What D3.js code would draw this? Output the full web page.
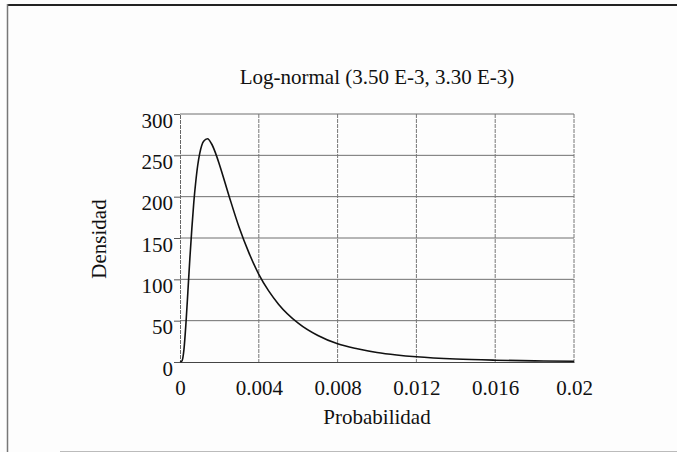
<!DOCTYPE html>
<html>
<head>
<meta charset="utf-8">
<script src="https://cdn.jsdelivr.net/npm/d3@7"></script>
<style>
  html, body { margin: 0; padding: 0; background: #fdfdfd; }
  svg { display: block; }
  text { font-family: "Liberation Serif", "Times New Roman", serif; fill: #111; }
</style>
</head>
<body>
<svg id="chart" width="677" height="452"></svg>
<script>
// ---- data ----
const titleText = "Log-normal (3.50 E-3, 3.30 E-3)";
const xLabel = "Probabilidad";
const yLabel = "Densidad";
const xTicks = [0, 0.004, 0.008, 0.012, 0.016, 0.02];
const xTickLabels = ["0", "0.004", "0.008", "0.012", "0.016", "0.02"];
const yTicks = [0, 50, 100, 150, 200, 250, 300];
const probX = [0, 0.0001, 0.0002, 0.0003, 0.0004, 0.0005, 0.0006, 0.0007, 0.0008, 0.0009,
               0.001, 0.0012, 0.0014, 0.0016, 0.0018, 0.002, 0.0025, 0.003, 0.0035, 0.004,
               0.0045, 0.005, 0.006, 0.007, 0.008, 0.009, 0.010, 0.011, 0.012, 0.014,
               0.016, 0.018, 0.02];
const densY = [0, 1.3, 15, 46, 85, 125, 161, 193, 218, 238,
               252, 267, 270, 264, 253, 239, 200, 163, 132, 106,
               86, 70, 47, 32, 22, 16, 11.5, 8.5, 6.3, 3.6,
               2.2, 1.4, 0.9];

// ---- layout ----
const svg = d3.select("#chart");
const x = d3.scaleLinear().domain([0, 0.02]).range([180, 574]);
const y = d3.scaleLinear().domain([0, 300]).range([362, 114]);

// frame (scanned border)
svg.append("line").attr("x1", 7).attr("x2", 677).attr("y1", 5).attr("y2", 5)
  .attr("stroke", "#222").attr("stroke-width", 2);
svg.append("line").attr("x1", 7.5).attr("x2", 7.5).attr("y1", 4).attr("y2", 452)
  .attr("stroke", "#777").attr("stroke-width", 1.5);
svg.append("line").attr("x1", 60).attr("x2", 677).attr("y1", 451.5).attr("y2", 451.5)
  .attr("stroke", "#bbb").attr("stroke-width", 1);

// horizontal grid
svg.append("g").selectAll("line").data(yTicks.filter(d => d > 0)).join("line")
  .attr("x1", x(0)).attr("x2", x(0.02))
  .attr("y1", d => y(d)).attr("y2", d => y(d))
  .attr("stroke", "#6f6f6f").attr("stroke-width", 1);

// vertical grid
svg.append("g").selectAll("line").data(xTicks.filter(d => d > 0)).join("line")
  .attr("x1", d => x(d)).attr("x2", d => x(d))
  .attr("y1", y(300)).attr("y2", y(0))
  .attr("stroke", "#777").attr("stroke-width", 1).attr("stroke-dasharray", "4,1");

// y axis
const yAxis = d3.axisLeft(y).tickValues(yTicks).tickSize(6).tickPadding(1).tickFormat(d3.format("d"));
const gy = svg.append("g").attr("transform", `translate(${x(0)},0)`).call(yAxis);
gy.select(".domain").attr("stroke", "#666").attr("stroke-dasharray", "4,1");
gy.selectAll(".tick line").attr("stroke", "#555");
gy.selectAll(".tick text").attr("font-size", 21).attr("font-family", "Liberation Serif")
  .attr("fill", "#111").attr("dy", "13px");

// x axis (baseline)
const xAxis = d3.axisBottom(x).tickValues(xTicks).tickSize(0).tickPadding(18)
  .tickFormat((d, i) => xTickLabels[i]);
const gx = svg.append("g").attr("transform", `translate(0,${y(0)})`).call(xAxis);
gx.select(".domain").attr("stroke", "#444").attr("stroke-width", 1.2);
gx.selectAll(".tick text").attr("font-size", 21).attr("font-family", "Liberation Serif")
  .attr("fill", "#111");

// curve
const line = d3.line().x((d, i) => x(probX[i])).y(d => y(d)).curve(d3.curveMonotoneX);
svg.append("path").datum(densY).attr("d", line)
  .attr("fill", "none").attr("stroke", "#111").attr("stroke-width", 1.6);

// title & labels
svg.append("text").attr("x", 377).attr("y", 84).attr("text-anchor", "middle")
  .attr("font-size", 21).text(titleText);
svg.append("text").attr("x", 377).attr("y", 424).attr("text-anchor", "middle")
  .attr("font-size", 21).text(xLabel);
svg.append("text").attr("transform", "translate(106,239) rotate(-90)")
  .attr("text-anchor", "middle").attr("font-size", 21).text(yLabel);
</script>
</body>
</html>
